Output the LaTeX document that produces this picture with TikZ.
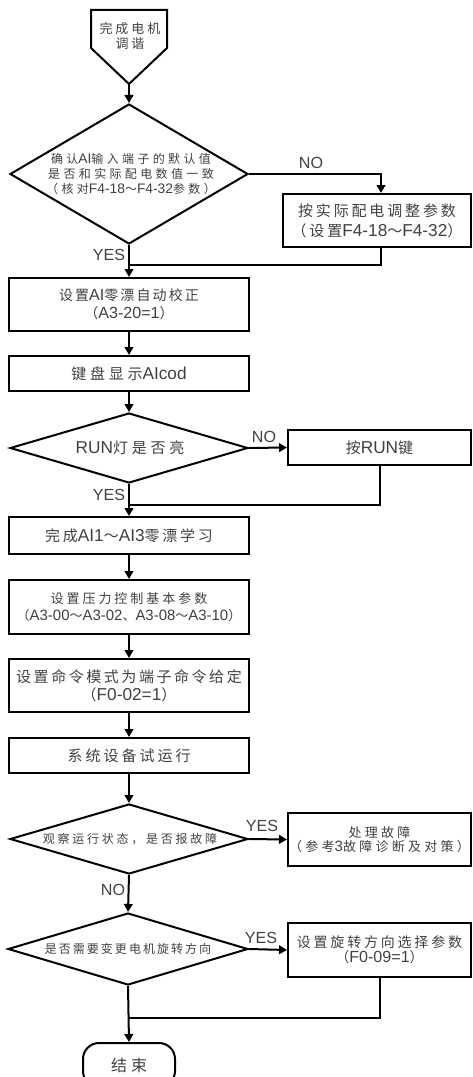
\documentclass[tikz,border=0pt]{standalone}
\usepackage{fontspec}
\usetikzlibrary{arrows.meta,shapes.geometric,calc}
\newfontfamily\cjk{Noto Sans CJK SC}
\newfontfamily\lat[Scale=1.15]{Liberation Sans}
\newcommand\la[1]{{\lat #1}}
\definecolor{tc}{gray}{0.25}
\tikzset{
  ft/.style n args={3}{font={\cjk\fontsize{#1pt}{#2pt}\selectfont\addfontfeatures{LetterSpace=#3}}},
  box/.style={draw, line width=1.5pt, rectangle, inner sep=0pt, text=tc, align=center},
  dia/.style={draw, line width=1.5pt, diamond, inner sep=0pt},
  txt/.style={align=center, inner sep=0pt, text=tc},
  arr/.style={line width=1.5pt, -{Triangle[length=6pt,width=6.5pt]}},
  ln/.style={line width=1.5pt},
  yn/.style={font={\lat\fontsize{10.5pt}{12pt}\selectfont}, text=tc, inner sep=0pt},
}
\begin{document}
\begin{tikzpicture}[x=0.75pt,y=-0.75pt]
\useasboundingbox (0,0) rectangle (473,1077);
% start
\draw[line width=1.5pt, miter limit=10] (91,10) -- (167,10) -- (167,48) -- (129,84) -- (91,48) -- cycle;
\coordinate (sTip) at (129,84);
\node[txt, ft={9.75}{11.25}{23}] (start) at (130,36) {完成电机\\调谐};
% diamond 1
\node[dia, minimum width=178.5pt, minimum height=105pt] (d1) at (129,174) {};
\node[txt, ft={9}{10.9}{28}] (d1t) at (131,174) {确认\la{AI}输入端子的默认值\\是否和实际配电数值一致\\（核对\la{F4-18}～\la{F4-32}参数）};
\node[box, ft={11.25}{15}{19}, minimum width=141pt, minimum height=39.75pt] (b2) at (377,220.5) {按实际配电调整参数\\（设置\la{F4-18}～\la{F4-32}）};
\coordinate (j1) at (129,265);
% box 3,4
\node[box, ft={10.5}{13.5}{15}, minimum width=180pt, minimum height=39.75pt] (b3) at (129,304.5) {设置\la{AI}零漂自动校正\\（\la{A3-20=1}）};
\node[box, ft={11.25}{13.5}{25}, minimum width=180pt, minimum height=26.25pt] (b4) at (129,373.5) {键盘显示\la{AIcod}};
% diamond 2
\node[dia, minimum width=178.5pt, minimum height=52.5pt] (d2) at (129,448) {};
\node[txt, ft={11.25}{13.5}{25}] (d2t) at (130,448) {\la{RUN}灯是否亮};
\node[box, ft={11.25}{13.5}{23}, minimum width=137.25pt, minimum height=26.25pt] (bR) at (379.5,447.5) {按\la{RUN}键};
\coordinate (j2) at (129,505);
% boxes 5-8
\node[box, ft={11.25}{13.5}{18}, minimum width=180pt, minimum height=27.75pt] (b5) at (129,535.5) {完成\la{AI1}～\la{AI3}零漂学习};
\node[box, ft={9.75}{12.75}{23}, minimum width=180pt, minimum height=40.5pt] (b6) at (129,607) {设置压力控制基本参数\\{\addfontfeatures{LetterSpace=0}（\la{A3-00}～\la{A3-02}、\la{A3-08}～\la{A3-10}）}};
\node[box, ft={11.25}{13.5}{17}, minimum width=180pt, minimum height=39.75pt] (b7) at (129,685.5) {设置命令模式为端子命令给定\\（\la{F0-02=1}）};
\node[box, ft={11.25}{13.5}{20}, minimum width=180pt, minimum height=26.25pt] (b8) at (129,755.5) {系统设备试运行};
% diamond 3
\node[dia, minimum width=178.5pt, minimum height=52.5pt] (d3) at (129,839) {};
\node[txt, ft={9}{10.9}{23}] (d3t) at (130,839) {观察运行状态，是否报故障};
\node[box, ft={9.75}{10.5}{25}, minimum width=137.25pt, minimum height=39.75pt] (b9) at (379.5,839.5) {处理故障\\（参考\la{3}故障诊断及对策）};
% diamond 4
\node[dia, minimum width=180pt, minimum height=54pt] (d4) at (128,949) {};
\node[txt, ft={9}{10.9}{17}] (d4t) at (128,949) {是否需要变更电机旋转方向};
\node[box, ft={10.5}{11.25}{20}, minimum width=137.25pt, minimum height=40.5pt] (b10) at (379.5,950) {设置旋转方向选择参数\\（\la{F0-09=1}）};
\coordinate (j3) at (129,1018);
% end
\node[box, ft={12}{14}{25}, rounded corners=12pt, minimum width=69pt, minimum height=33pt] (end) at (129,1065) {结束};
% connectors
\draw[arr] (sTip) -- (d1.north);
\draw[arr] (d1.east) -| ([xshift=3pt]b2.north);
\draw[ln] ([xshift=3pt]b2.south) |- (j1);
\draw[arr] (d1.south) -- (b3.north);
\draw[arr] (b3.south) -- (b4.north);
\draw[arr] (b4.south) -- (d2.north);
\draw[arr] (d2.east) -- (bR.west);
\draw[ln] (bR.south) |- (j2);
\draw[arr] (d2.south) -- (b5.north);
\draw[arr] (b5.south) -- (b6.north);
\draw[arr] (b6.south) -- (b7.north);
\draw[arr] (b7.south) -- (b8.north);
\draw[arr] (b8.south) -- (d3.north);
\draw[arr] (d3.east) -- (b9.west);
\draw[arr] (d3.south) -- (d4.north);
\draw[arr] (d4.east) -- (b10.west);
\draw[ln] (b10.south) |- (j3);
\draw[arr] (d4.south) -- (end.north);
% labels
\node[yn] (l1) at (311,163) {NO};
\node[yn] (l2) at (109,255) {YES};
\node[yn] (l3) at (264,437) {NO};
\node[yn] (l4) at (109,495) {YES};
\node[yn] (l5) at (262,826) {YES};
\node[yn] (l6) at (113,890) {NO};
\node[yn] (l7) at (261,938) {YES};
\end{tikzpicture}
\end{document}
